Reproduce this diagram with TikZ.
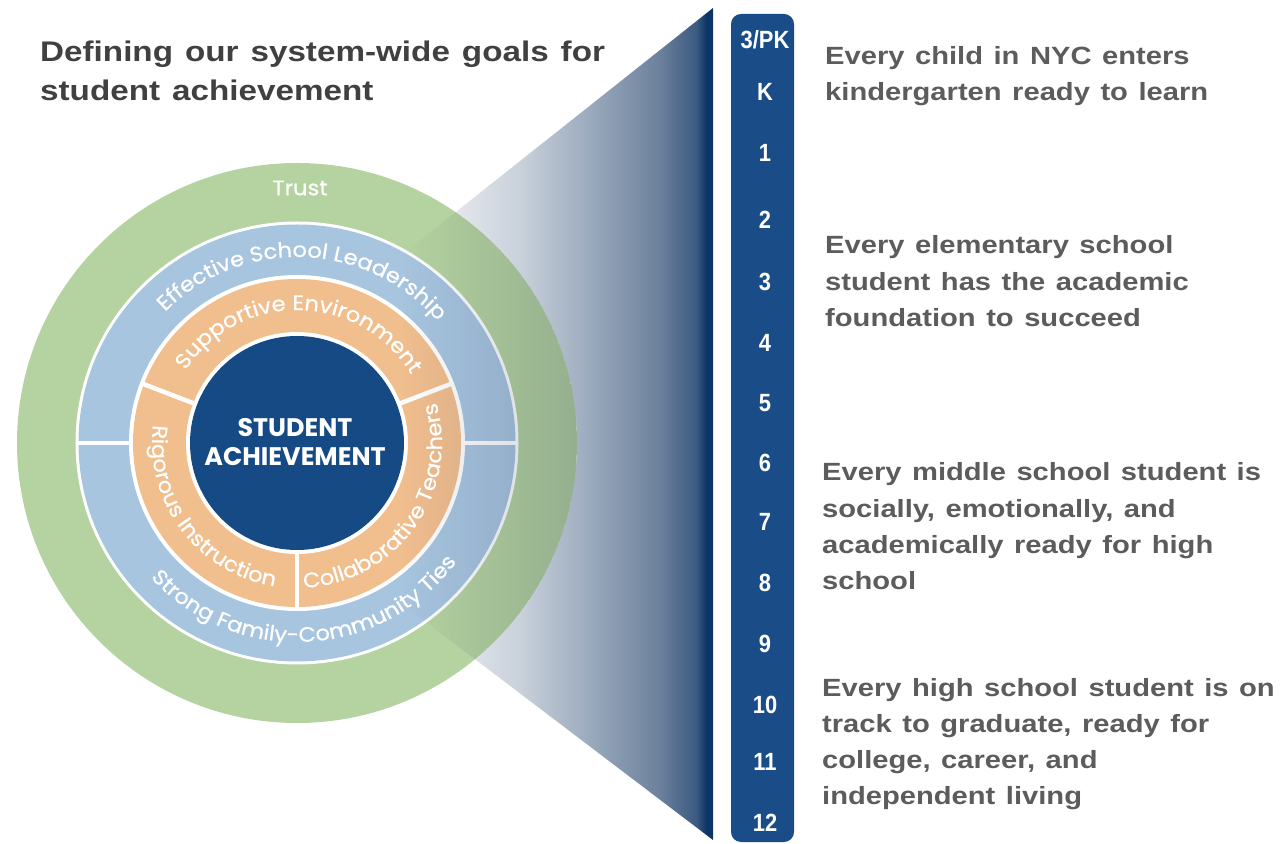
\documentclass[tikz,border=0pt]{standalone}
\usepackage{fontspec}
\setmainfont{Liberation Sans}
\newfontfamily\ringfont[FakeStretch=1.08,FakeBold=0.6]{Poppins}
\newfontfamily\hubfont{Poppins}
\newfontfamily\goalfont[FakeStretch=1.17,WordSpace=1.3]{Liberation Sans}
\newfontfamily\gradefont[FakeStretch=0.88]{Liberation Sans}
\usetikzlibrary{decorations.text,calc}

\definecolor{ringgreen}{RGB}{181,211,160}
\definecolor{ringblue}{RGB}{168,197,224}
\definecolor{ringorange}{RGB}{241,190,142}
\definecolor{hubnavy}{RGB}{21,74,132}
\definecolor{barnavy}{RGB}{26,77,135}
\definecolor{titlegray}{RGB}{64,64,64}
\definecolor{goalgray}{RGB}{92,92,92}
\definecolor{shadecol}{RGB}{30,50,80}
\definecolor{coneA}{RGB}{238,239,242}
\definecolor{coneB}{RGB}{228,231,236}
\definecolor{coneC}{RGB}{200,208,218}
\definecolor{coneD}{RGB}{150,166,186}
\definecolor{coneE}{RGB}{108,129,156}
\definecolor{coneF}{RGB}{60,90,128}
\definecolor{coneG}{RGB}{12,52,102}

% light-to-navy funnel toward the grade bar
\pgfdeclarehorizontalshading{conefade}{100bp}{color(0bp)=(coneA); color(25bp)=(coneA); color(44bp)=(coneB); color(52bp)=(coneC); color(61bp)=(coneD); color(68.5bp)=(coneE); color(73bp)=(coneF); color(74.2bp)=(coneG); color(100bp)=(coneG)}

\newcommand\ringstyle{\ringfont\fontsize{21}{24}\selectfont\color{white}}

\tikzset{
  divider/.style={white, line width=4.5bp},
  grade/.style={anchor=base, text=white, inner sep=0pt, font=\gradefont\bfseries\fontsize{25}{28}\selectfont},
  goal/.style={anchor=base west, text=goalgray, inner sep=0pt, font=\goalfont\bfseries\fontsize{25}{30}\selectfont},
  headline/.style={anchor=base west, text=titlegray, inner sep=0pt, font=\goalfont\bfseries\fontsize{28.5}{34}\selectfont},
  ringtext/.style={decorate, decoration={text along path, text align=center, text={|\ringstyle|#1}}}
}

\begin{document}
\begin{tikzpicture}[x=1bp,y=1bp]
\useasboundingbox (0,0) rectangle (1283,844);
\fill[white] (0,0) rectangle (1283,844);

\coordinate (C) at (297,401);

% funnel
\shade[shading=conefade] (297,506) -- (713,836) -- (713,4) -- (297,320) -- cycle;

% rings
\fill[ringgreen] (C) circle[radius=280];
\fill[white] (C) circle[radius=221.5];
\fill[ringblue] (C) circle[radius=218.5];
\fill[white] (C) circle[radius=168];
\fill[ringorange] (C) circle[radius=164];
\fill[white] (C) circle[radius=111];
\fill[hubnavy] (C) circle[radius=107];

% segment dividers
\draw[divider] ($(C)+(180:166)$) -- ($(C)+(180:220)$);
\draw[divider] ($(C)+(0:166)$) -- ($(C)+(0:220)$);
\foreach \a in {21,159,270}
  \draw[divider] ($(C)+(\a:109)$) -- ($(C)+(\a:166)$);

% funnel seen through the rings
\begin{scope}
  \clip (C) circle[radius=280];
  \clip (297,506) -- (713,836) -- (713,4) -- (297,320) -- cycle;
  \foreach \k in {0,...,59} {
    \pgfmathsetmacro\xa{400+3*\k}
    \pgfmathsetmacro\op{0.22*\k/59}
    \fill[shadecol, fill opacity=\op] (\xa,0) rectangle ({\xa+3},844);
  }
\end{scope}

% ring labels
\node[text=white, inner sep=0pt, font=\ringfont\fontsize{21}{24}\selectfont] (trust) at (300,656) {Trust};
\path[ringtext={Effective School Leadership}] ($(C)+(173:186)$) arc[start angle=173, end angle=3, radius=186];
\path[ringtext={Strong Family-Community Ties}] ($(C)+(-172:199)$) arc[start angle=-172, end angle=-2, radius=199];
\path[ringtext={Supportive Environment}] ($(C)+(179:133)$) arc[start angle=179, end angle=-1, radius=133];
\path[ringtext={Rigorous Instruction}] ($(C)+(162:145)$) arc[start angle=162, end angle=272, radius=145];
\path[ringtext={Collaborative Teachers}] ($(C)+(-90:145)$) arc[start angle=-90, end angle=19, radius=145];

\node[text=white, align=center, inner sep=0pt, font=\hubfont\bfseries\fontsize{25.5}{29}\selectfont] (hub) at (295,402) {STUDENT\\ACHIEVEMENT};

% grade bar
\node[fill=barnavy, rounded corners=10bp, minimum width=63bp, minimum height=828bp, inner sep=0pt] (bar) at (762.5,416) {};
\node[grade] (gPK) at (765,{844-49}) {3/PK};
\foreach \g/\y in {K/92,1/153,2/220,3/282,4/343,5/403,6/463,7/522,8/583,9/644,10/705,11/762,12/823}
  \node[grade] (g\g) at (765,{844-\y-9}) {\g};

% headline
\node[headline] (head1) at (40,{844-62}) {Defining our system-wide goals for};
\node[headline] (head2) at (40,{844-101}) {student achievement};

% goals by grade band
\foreach \txt [count=\i] in {Every child in NYC enters, kindergarten ready to learn}
  \node[goal] (early\i) at (825,{844-65-35.5*(\i-1)}) {\txt};
\foreach \txt [count=\i] in {Every elementary school, student has the academic, foundation to succeed}
  \node[goal] (elem\i) at (825,{844-254-36.3*(\i-1)}) {\txt};
\foreach \txt [count=\i] in {Every middle school student is, {socially, emotionally, and}, academically ready for high, school}
  \node[goal] (mid\i) at (822,{844-481-36.3*(\i-1)}) {\txt};
\foreach \txt [count=\i] in {Every high school student is on, {track to graduate, ready for}, {college, career, and}, independent living}
  \node[goal] (high\i) at (822,{844-696.7-35.9*(\i-1)}) {\txt};
\end{tikzpicture}
\end{document}
